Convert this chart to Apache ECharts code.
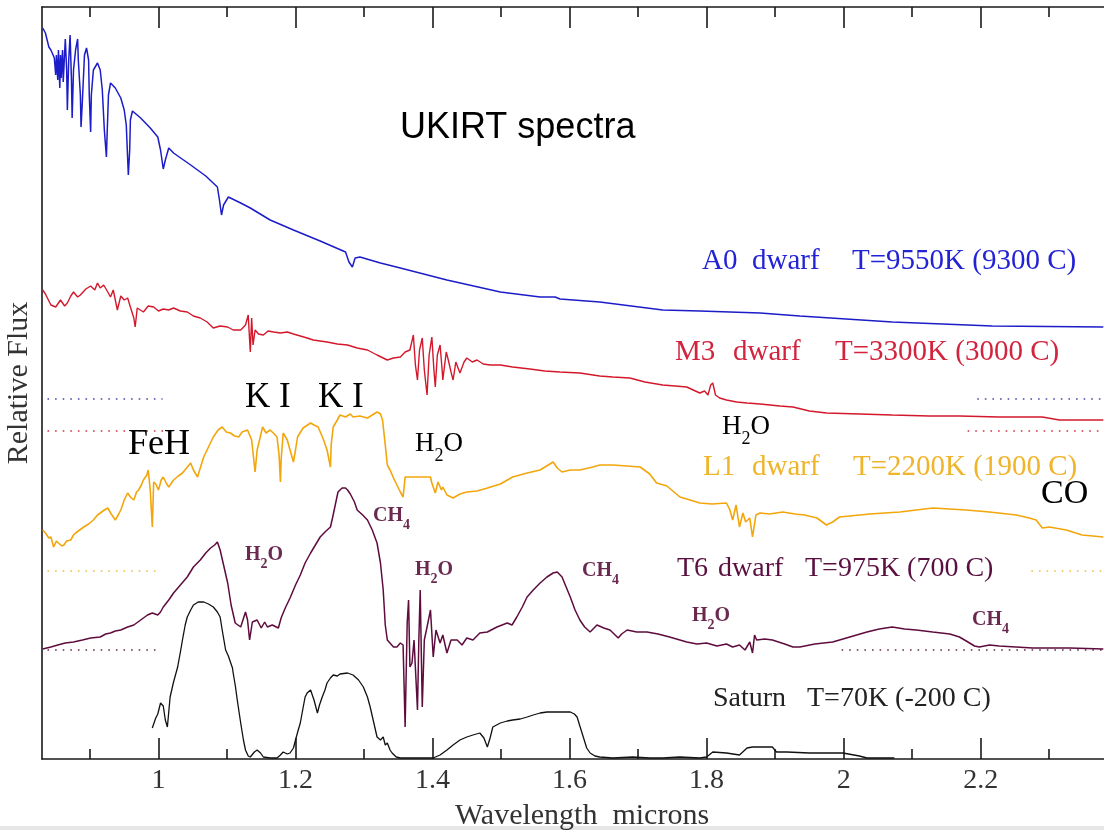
<!DOCTYPE html>
<html>
<head>
<meta charset="utf-8">
<title>UKIRT spectra</title>
<script src="https://cdn.jsdelivr.net/npm/echarts@6/dist/echarts.min.js"></script>
<style>
  html, body { margin: 0; padding: 0; background: #ffffff; }
  #main { width: 1104px; height: 830px; }
</style>
</head>
<body>
<div id="main"></div>
<script>
// ---- Spectra: [wavelength (microns), relative flux (offset for display)] ----
const a0Spectrum = [[0.831,7.31],[0.835,7.26],[0.840,7.12],[0.843,7.09],[0.848,7.01],[0.850,6.84],[0.851,7.04],[0.853,6.79],[0.854,7.09],[0.856,6.71],[0.857,7.04],[0.858,6.81],[0.860,7.09],[0.861,6.77],[0.864,7.20],[0.866,6.89],[0.867,6.49],[0.869,6.99],[0.871,7.24],[0.873,6.79],[0.874,6.41],[0.876,6.89],[0.879,7.09],[0.882,7.20],[0.883,6.99],[0.886,6.64],[0.887,6.32],[0.889,6.59],[0.892,7.04],[0.895,7.11],[0.898,6.99],[0.899,6.64],[0.901,6.27],[0.902,6.64],[0.905,6.89],[0.911,6.96],[0.915,6.89],[0.918,6.69],[0.921,6.29],[0.924,6.02],[0.925,6.24],[0.927,6.64],[0.930,6.76],[0.937,6.71],[0.945,6.61],[0.950,6.49],[0.953,6.34],[0.956,5.84],[0.958,6.09],[0.959,6.39],[0.962,6.48],[0.974,6.41],[0.988,6.31],[0.999,6.22],[1.003,6.09],[1.007,5.90],[1.010,5.99],[1.015,6.11],[1.022,6.06],[1.047,5.94],[1.069,5.83],[1.086,5.72],[1.089,5.59],[1.092,5.44],[1.095,5.54],[1.102,5.62],[1.120,5.56],[1.134,5.51],[1.163,5.39],[1.197,5.29],[1.236,5.18],[1.273,5.07],[1.278,4.97],[1.283,4.92],[1.287,5.01],[1.294,5.02],[1.324,4.96],[1.353,4.91],[1.421,4.79],[1.499,4.67],[1.557,4.62],[1.579,4.62],[1.586,4.60],[1.644,4.57],[1.736,4.49],[1.790,4.48],[1.878,4.46],[1.936,4.43],[2.071,4.37],[2.217,4.33],[2.379,4.32]];

const m3Spectrum = [[0.831,4.69],[0.835,4.65],[0.843,4.54],[0.850,4.52],[0.857,4.59],[0.863,4.53],[0.867,4.56],[0.872,4.63],[0.876,4.67],[0.882,4.62],[0.886,4.64],[0.894,4.70],[0.901,4.73],[0.907,4.69],[0.911,4.76],[0.915,4.71],[0.920,4.74],[0.926,4.67],[0.930,4.62],[0.934,4.69],[0.940,4.49],[0.945,4.63],[0.950,4.59],[0.955,4.61],[0.959,4.52],[0.964,4.41],[0.966,4.32],[0.969,4.51],[0.978,4.47],[0.985,4.53],[0.993,4.52],[1.000,4.48],[1.007,4.50],[1.015,4.49],[1.022,4.51],[1.032,4.48],[1.042,4.47],[1.051,4.43],[1.061,4.41],[1.071,4.37],[1.080,4.31],[1.090,4.33],[1.101,4.32],[1.109,4.29],[1.120,4.29],[1.127,4.34],[1.131,4.44],[1.133,4.19],[1.134,4.07],[1.136,4.41],[1.138,4.14],[1.141,4.29],[1.146,4.25],[1.153,4.24],[1.160,4.28],[1.168,4.27],[1.178,4.26],[1.188,4.27],[1.197,4.25],[1.207,4.23],[1.217,4.21],[1.226,4.19],[1.236,4.18],[1.246,4.17],[1.261,4.15],[1.276,4.14],[1.290,4.11],[1.305,4.09],[1.319,4.04],[1.334,3.99],[1.343,4.01],[1.353,4.02],[1.360,4.07],[1.367,4.09],[1.372,4.24],[1.375,3.94],[1.378,3.79],[1.381,4.09],[1.385,4.21],[1.388,3.89],[1.392,3.64],[1.395,4.04],[1.399,4.22],[1.402,3.89],[1.404,3.72],[1.407,4.04],[1.411,4.14],[1.414,3.89],[1.415,3.79],[1.420,4.07],[1.423,3.99],[1.427,3.87],[1.430,3.79],[1.434,3.97],[1.440,3.86],[1.446,3.97],[1.450,4.01],[1.458,3.97],[1.465,3.99],[1.474,3.95],[1.484,3.94],[1.499,3.94],[1.517,3.92],[1.542,3.90],[1.564,3.88],[1.586,3.87],[1.615,3.86],[1.644,3.83],[1.663,3.82],[1.688,3.81],[1.710,3.77],[1.736,3.74],[1.754,3.73],[1.771,3.72],[1.790,3.66],[1.797,3.68],[1.802,3.64],[1.806,3.74],[1.809,3.76],[1.813,3.64],[1.819,3.61],[1.829,3.59],[1.844,3.57],[1.859,3.56],[1.878,3.55],[1.907,3.53],[1.926,3.52],[1.950,3.48],[1.975,3.46],[2.023,3.45],[2.071,3.44],[2.125,3.43],[2.169,3.43],[2.227,3.42],[2.290,3.42],[2.315,3.39],[2.379,3.39]];

const l1Spectrum = [[0.831,2.29],[0.835,2.26],[0.840,2.21],[0.843,2.22],[0.847,2.12],[0.851,2.18],[0.854,2.16],[0.859,2.13],[0.862,2.14],[0.866,2.18],[0.872,2.19],[0.876,2.24],[0.879,2.26],[0.885,2.29],[0.891,2.32],[0.898,2.35],[0.905,2.39],[0.911,2.44],[0.915,2.46],[0.921,2.49],[0.926,2.51],[0.931,2.45],[0.937,2.39],[0.942,2.45],[0.945,2.49],[0.950,2.59],[0.955,2.66],[0.959,2.62],[0.964,2.59],[0.968,2.67],[0.971,2.69],[0.975,2.74],[0.978,2.79],[0.983,2.84],[0.985,2.89],[0.988,2.69],[0.991,2.32],[0.993,2.77],[0.996,2.75],[1.000,2.69],[1.004,2.79],[1.007,2.82],[1.012,2.75],[1.015,2.72],[1.019,2.76],[1.022,2.79],[1.029,2.83],[1.035,2.86],[1.041,2.91],[1.047,2.96],[1.051,2.89],[1.057,2.82],[1.061,2.91],[1.066,3.02],[1.073,3.12],[1.080,3.22],[1.087,3.29],[1.093,3.32],[1.099,3.27],[1.105,3.26],[1.111,3.23],[1.117,3.22],[1.122,3.27],[1.130,3.29],[1.136,3.19],[1.141,2.87],[1.144,3.09],[1.152,3.32],[1.157,3.26],[1.163,3.29],[1.169,3.25],[1.173,3.22],[1.176,3.04],[1.178,2.77],[1.179,2.99],[1.182,3.26],[1.188,3.19],[1.192,3.09],[1.197,2.97],[1.200,3.09],[1.203,3.22],[1.211,3.31],[1.222,3.36],[1.227,3.34],[1.233,3.32],[1.238,3.24],[1.241,3.19],[1.246,3.09],[1.251,2.92],[1.252,3.14],[1.255,3.32],[1.261,3.39],[1.265,3.44],[1.273,3.42],[1.280,3.45],[1.284,3.42],[1.294,3.43],[1.305,3.41],[1.312,3.44],[1.319,3.47],[1.324,3.45],[1.327,3.39],[1.331,3.14],[1.334,2.94],[1.338,2.89],[1.343,2.81],[1.348,2.74],[1.353,2.67],[1.357,2.62],[1.360,2.82],[1.375,2.82],[1.397,2.82],[1.399,2.76],[1.404,2.66],[1.408,2.77],[1.413,2.69],[1.415,2.72],[1.421,2.64],[1.430,2.61],[1.440,2.65],[1.450,2.67],[1.465,2.68],[1.480,2.71],[1.499,2.75],[1.517,2.82],[1.538,2.86],[1.557,2.89],[1.576,2.97],[1.582,2.91],[1.589,2.87],[1.601,2.89],[1.615,2.89],[1.634,2.92],[1.644,2.94],[1.663,2.94],[1.684,2.93],[1.703,2.92],[1.717,2.85],[1.727,2.76],[1.742,2.73],[1.761,2.62],[1.776,2.59],[1.790,2.56],[1.808,2.55],[1.829,2.56],[1.834,2.49],[1.838,2.39],[1.843,2.54],[1.848,2.32],[1.853,2.46],[1.857,2.37],[1.863,2.41],[1.867,2.22],[1.872,2.44],[1.878,2.46],[1.892,2.45],[1.911,2.47],[1.929,2.45],[1.943,2.44],[1.961,2.41],[1.975,2.34],[1.984,2.37],[1.994,2.42],[2.038,2.45],[2.082,2.47],[2.130,2.51],[2.179,2.49],[2.213,2.47],[2.252,2.44],[2.271,2.41],[2.281,2.39],[2.290,2.31],[2.300,2.32],[2.325,2.29],[2.348,2.24],[2.379,2.22]];

const t6Spectrum = [[0.831,1.10],[0.843,1.12],[0.853,1.14],[0.864,1.16],[0.876,1.17],[0.889,1.19],[0.901,1.21],[0.915,1.22],[0.923,1.25],[0.930,1.26],[0.937,1.28],[0.945,1.29],[0.955,1.32],[0.964,1.34],[0.974,1.39],[0.984,1.44],[0.991,1.46],[0.999,1.44],[1.003,1.47],[1.007,1.52],[1.015,1.59],[1.022,1.66],[1.032,1.74],[1.042,1.82],[1.051,1.92],[1.061,1.99],[1.069,2.06],[1.076,2.11],[1.082,2.14],[1.086,2.17],[1.090,2.09],[1.095,1.94],[1.101,1.76],[1.106,1.54],[1.112,1.36],[1.120,1.32],[1.127,1.47],[1.130,1.39],[1.133,1.19],[1.137,1.37],[1.144,1.39],[1.150,1.31],[1.155,1.37],[1.159,1.32],[1.166,1.34],[1.175,1.31],[1.179,1.41],[1.185,1.51],[1.192,1.61],[1.200,1.74],[1.207,1.84],[1.214,1.96],[1.222,2.06],[1.229,2.14],[1.236,2.22],[1.243,2.27],[1.251,2.32],[1.254,2.41],[1.258,2.54],[1.262,2.67],[1.268,2.71],[1.273,2.71],[1.276,2.69],[1.280,2.65],[1.286,2.57],[1.290,2.49],[1.298,2.44],[1.305,2.39],[1.312,2.29],[1.319,2.16],[1.324,1.96],[1.328,1.69],[1.331,1.34],[1.334,1.19],[1.343,1.12],[1.348,1.12],[1.353,1.16],[1.357,1.14],[1.360,0.32],[1.363,1.36],[1.365,1.59],[1.367,0.92],[1.370,0.96],[1.373,1.19],[1.378,0.49],[1.380,1.19],[1.382,1.69],[1.385,0.52],[1.388,1.19],[1.392,1.32],[1.397,1.49],[1.401,1.02],[1.405,1.29],[1.411,1.16],[1.415,1.24],[1.421,1.06],[1.427,1.19],[1.436,1.19],[1.443,1.14],[1.450,1.21],[1.459,1.19],[1.469,1.26],[1.480,1.27],[1.494,1.32],[1.509,1.36],[1.516,1.34],[1.523,1.42],[1.531,1.52],[1.538,1.62],[1.547,1.69],[1.557,1.76],[1.567,1.82],[1.576,1.86],[1.582,1.87],[1.589,1.82],[1.595,1.72],[1.601,1.62],[1.608,1.49],[1.615,1.39],[1.622,1.32],[1.630,1.27],[1.640,1.34],[1.650,1.31],[1.659,1.29],[1.671,1.21],[1.676,1.25],[1.684,1.29],[1.698,1.27],[1.713,1.27],[1.729,1.25],[1.746,1.22],[1.761,1.19],[1.771,1.17],[1.786,1.15],[1.800,1.16],[1.815,1.13],[1.829,1.15],[1.838,1.12],[1.848,1.14],[1.856,1.09],[1.863,1.17],[1.867,1.06],[1.870,1.24],[1.873,1.19],[1.885,1.20],[1.896,1.19],[1.914,1.15],[1.926,1.12],[1.936,1.12],[1.958,1.15],[1.984,1.17],[2.009,1.22],[2.034,1.27],[2.052,1.30],[2.071,1.32],[2.089,1.30],[2.106,1.29],[2.130,1.27],[2.155,1.25],[2.169,1.22],[2.179,1.18],[2.191,1.13],[2.198,1.12],[2.213,1.14],[2.227,1.13],[2.276,1.11],[2.330,1.11],[2.379,1.10]];

const saturnSpectrum = [[0.991,0.31],[0.996,0.41],[0.999,0.45],[1.003,0.56],[1.007,0.53],[1.010,0.39],[1.013,0.32],[1.017,0.62],[1.022,0.77],[1.028,0.92],[1.032,1.07],[1.035,1.19],[1.039,1.34],[1.042,1.42],[1.047,1.49],[1.051,1.54],[1.058,1.57],[1.066,1.57],[1.073,1.55],[1.080,1.52],[1.086,1.47],[1.090,1.42],[1.093,1.29],[1.098,1.09],[1.102,1.03],[1.105,0.97],[1.108,0.91],[1.109,0.86],[1.112,0.74],[1.115,0.59],[1.120,0.36],[1.124,0.19],[1.127,0.09],[1.131,0.03],[1.134,0.02],[1.140,0.07],[1.144,0.09],[1.149,0.06],[1.153,0.02],[1.163,0.01],[1.173,0.01],[1.178,0.04],[1.182,0.07],[1.188,0.05],[1.192,0.06],[1.197,0.11],[1.200,0.19],[1.204,0.29],[1.207,0.36],[1.211,0.51],[1.214,0.62],[1.217,0.66],[1.222,0.69],[1.224,0.67],[1.227,0.59],[1.232,0.46],[1.235,0.54],[1.239,0.62],[1.243,0.69],[1.246,0.76],[1.251,0.81],[1.255,0.84],[1.261,0.83],[1.265,0.85],[1.276,0.86],[1.284,0.84],[1.292,0.79],[1.299,0.72],[1.305,0.62],[1.309,0.52],[1.314,0.37],[1.319,0.22],[1.324,0.19],[1.328,0.22],[1.331,0.14],[1.334,0.16],[1.338,0.09],[1.341,0.06],[1.347,0.02],[1.353,0.01],[1.372,0.01],[1.401,0.01],[1.411,0.04],[1.421,0.09],[1.430,0.14],[1.440,0.19],[1.450,0.22],[1.459,0.24],[1.469,0.26],[1.475,0.21],[1.480,0.12],[1.484,0.21],[1.488,0.32],[1.499,0.36],[1.509,0.38],[1.517,0.39],[1.528,0.40],[1.538,0.42],[1.547,0.44],[1.557,0.46],[1.567,0.47],[1.576,0.47],[1.589,0.47],[1.601,0.47],[1.607,0.45],[1.611,0.42],[1.615,0.33],[1.620,0.22],[1.625,0.11],[1.630,0.06],[1.637,0.03],[1.644,0.02],[1.663,0.01],[1.692,0.02],[1.717,0.01],[1.736,0.01],[1.761,0.02],[1.790,0.01],[1.800,0.02],[1.809,0.07],[1.829,0.06],[1.848,0.04],[1.859,0.11],[1.867,0.12],[1.896,0.12],[1.902,0.07],[1.917,0.07],[1.950,0.06],[1.999,0.06],[2.001,0.04],[2.023,0.03],[2.034,0.01],[2.074,0.01]];

// Zero level of each offset spectrum, drawn as short dotted stubs at both edges
const zeroLevels = [3.60, 3.28, 1.88, 1.09];
const zeroStubLeft = [[0.838, 1.006], [0.838, 1.018], [0.838, 1.000], [0.838, 1.000]];
const zeroStubRight = [[2.195, 2.38], [2.181, 2.38], [2.274, 2.38], [1.997, 2.38]];

// Axis ticks
const majorTicks = [1, 1.2, 1.4, 1.6, 1.8, 2, 2.2];
const minorTicks = [0.9, 1.1, 1.3, 1.5, 1.7, 1.9, 2.1, 2.3];

// Texts
const chartTitle = 'UKIRT spectra';
const xTitle = 'Wavelength  microns';
const yTitle = 'Relative Flux';
const spectrumLabels = [
  ['A0', 'dwarf', 'T=9550K (9300 C)'],
  ['M3', 'dwarf', 'T=3300K (3000 C)'],
  ['L1', 'dwarf', 'T=2200K (1900 C)'],
  ['T6', 'dwarf', 'T=975K (700 C)'],
  ['Saturn', 'T=70K (-200 C)']
];

// ---- Drawing ----
const SERIF = '"Liberation Serif", "Times New Roman", serif';
const SANS = '"Liberation Sans", Arial, sans-serif';
const colors = ['#1c1cc8', '#d4182c', '#f2a60c', '#5e0c3e', '#111111'];
const lineWidths = [1.5, 1.4, 1.6, 1.5, 1.3];
const labelColors = ['#2323d6', '#d2243e', '#f0b42a', '#5a1040', '#222222'];
const zeroColors = ['#4848a8', '#cc3344', '#e8c040', '#6a2a50'];

const measureCtx = document.createElement('canvas').getContext('2d');
function textWidth(str, size, family, weight) {
  measureCtx.font = (weight || 'normal') + ' ' + size + 'px ' + family;
  return measureCtx.measureText(str).width;
}
function textEl(str, x, y, size, color, family, weight) {
  return {
    type: 'text', x: x, y: y, silent: true, z: 50,
    style: {
      text: str, fill: color, fontSize: size, fontFamily: family || SERIF,
      fontWeight: weight || 'normal', align: 'left', verticalAlign: 'middle'
    }
  };
}
// Chemical formula with subscripts, e.g. H2O -> H, 2 (sub), O
function formula(parts, x, y, size, color, weight) {
  const els = [];
  let cx = x;
  parts.forEach(function (p) {
    const sub = p[1];
    const fs = sub ? Math.round(size * 0.68) : size;
    els.push(textEl(p[0], cx, sub ? y + size * 0.45 : y, fs, color, SERIF, weight));
    cx += textWidth(p[0], fs, SERIF, weight);
  });
  return els;
}
const H2O = [['H', 0], ['2', 1], ['O', 0]];
const CH4 = [['CH', 0], ['4', 1]];

const graphics = [];
graphics.push(textEl(chartTitle, 400, 128, 36, '#000', SANS));

// spectrum captions: [x positions of each word group], y centre, font size
const captionLayout = [
  { xs: [702, 752, 852], y: 261, size: 29 },
  { xs: [675, 733, 835], y: 352, size: 29 },
  { xs: [703, 752, 853], y: 467, size: 29 },
  { xs: [677, 718, 805], y: 569, size: 28 },
  { xs: [713, 807], y: 699, size: 28 }
];
spectrumLabels.forEach(function (words, i) {
  const lay = captionLayout[i];
  words.forEach(function (w, j) {
    graphics.push(textEl(w, lay.xs[j], lay.y, lay.size, labelColors[i], SERIF));
  });
});

// feature annotations (black, large)
graphics.push(textEl('FeH', 128, 445, 36, '#000'));
graphics.push(textEl('K I', 245, 398, 35, '#000'));
graphics.push(textEl('K I', 318, 398, 35, '#000'));
graphics.push(textEl('CO', 1041, 494, 34, '#000'));
graphics.push.apply(graphics, formula(H2O, 415, 444, 27, '#000', 'normal'));
graphics.push.apply(graphics, formula(H2O, 722, 427, 27, '#000', 'normal'));

// T dwarf band annotations (small, bold)
const tc = '#6a2a50';
graphics.push.apply(graphics, formula(H2O, 245, 555, 20, tc, 'bold'));
graphics.push.apply(graphics, formula(CH4, 373, 516, 20, tc, 'bold'));
graphics.push.apply(graphics, formula(H2O, 415, 570, 20, tc, 'bold'));
graphics.push.apply(graphics, formula(CH4, 582, 571, 20, tc, 'bold'));
graphics.push.apply(graphics, formula(H2O, 692, 616, 20, tc, 'bold'));
graphics.push.apply(graphics, formula(CH4, 972, 620, 20, tc, 'bold'));

// faint strip along the lower edge of the page
graphics.push({ type: 'rect', shape: { x: 0, y: 826, width: 1104, height: 4 }, style: { fill: '#e6e6e6' }, silent: true });

const spectra = [a0Spectrum, m3Spectrum, l1Spectrum, t6Spectrum, saturnSpectrum];
const series = [];
spectra.forEach(function (data, i) {
  series.push({
    type: 'line', data: data, xAxisIndex: 0, yAxisIndex: 0,
    showSymbol: false, symbol: 'none', silent: true, animation: false,
    lineStyle: { color: colors[i], width: lineWidths[i] },
    z: 10 - i
  });
});
zeroLevels.forEach(function (lvl, i) {
  [zeroStubLeft[i], zeroStubRight[i]].forEach(function (span) {
    series.push({
      type: 'line', data: [[span[0], lvl], [span[1], lvl]], xAxisIndex: 0, yAxisIndex: 0,
      showSymbol: false, symbol: 'none', silent: true, animation: false,
      lineStyle: { color: zeroColors[i], width: 1.6, type: [1.6, 6] },
      z: 2
    });
  });
});

const XMIN = 0.83, XMAX = 2.38;
const axisColor = '#1a1a1a';
const gridRect = { left: 42, right: 0, top: 7, bottom: 71, containLabel: false, outerBoundsMode: 'none' };

function tickAxis(gridIndex, position, values, len, withLine, withLabels) {
  return {
    type: 'value', gridIndex: gridIndex, position: position, min: XMIN, max: XMAX,
    axisLine: { show: withLine, onZero: false, lineStyle: { color: axisColor, width: 1.6 } },
    axisTick: { show: true, inside: true, length: len, customValues: values, lineStyle: { color: axisColor, width: 1.6 } },
    axisLabel: withLabels ? {
      show: true, customValues: values, fontFamily: SERIF, fontSize: 28, color: '#333', margin: 8
    } : { show: false },
    splitLine: { show: false }
  };
}
const xAxes = [
  tickAxis(0, 'bottom', majorTicks, 21, true, true),
  tickAxis(0, 'top', majorTicks, 21, true, false),
  tickAxis(1, 'bottom', minorTicks, 10, false, false),
  tickAxis(1, 'top', minorTicks, 10, false, false)
];
xAxes[0].name = xTitle;
xAxes[0].nameLocation = 'middle';
xAxes[0].nameGap = 42;
xAxes[0].nameTextStyle = { fontFamily: SERIF, fontSize: 30, color: '#333', padding: [0, 0, 0, 18] };

const option = {
  backgroundColor: '#ffffff',
  animation: false,
  grid: [gridRect, Object.assign({}, gridRect)],
  xAxis: xAxes,
  yAxis: [
    {
      type: 'value', gridIndex: 0, min: 0, max: 7.52,
      axisLine: { show: true, lineStyle: { color: axisColor, width: 1.6 } },
      axisTick: { show: false }, axisLabel: { show: false }, splitLine: { show: false },
      name: yTitle, nameLocation: 'middle', nameGap: 8, nameRotate: 90,
      nameTextStyle: { fontFamily: SERIF, fontSize: 30, color: '#333' }
    },
    { type: 'value', gridIndex: 1, min: 0, max: 7.52, show: false }
  ],
  series: series,
  graphic: { elements: graphics }
};

const chart = echarts.init(document.getElementById('main'), null, { renderer: 'canvas' });
chart.setOption(option);
</script>
</body>
</html>
